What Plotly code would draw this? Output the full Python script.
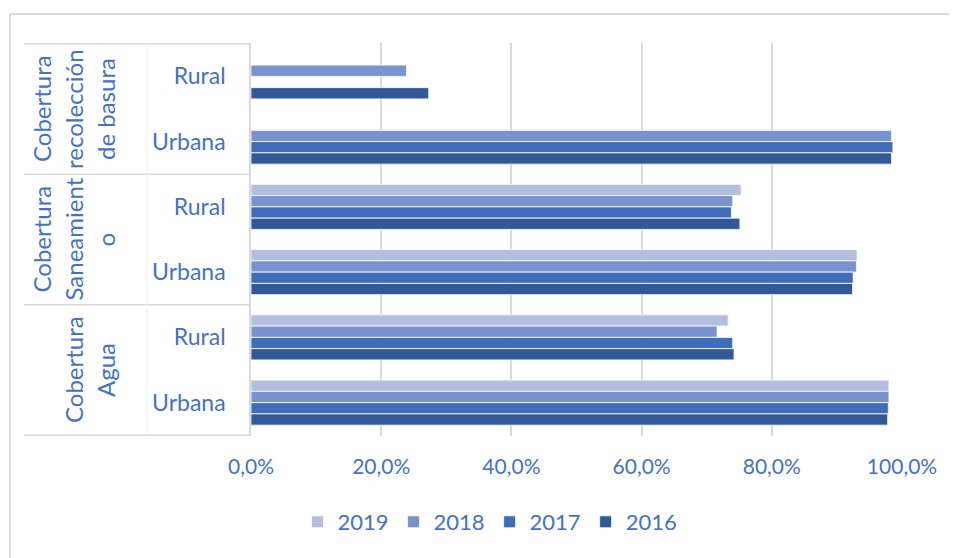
import plotly.graph_objects as go

# categorías (de arriba hacia abajo)
groups = ["basura", "basura", "saneamiento", "saneamiento", "agua", "agua"]
zones = ["Rural", "Urbana", "Rural", "Urbana", "Rural", "Urbana"]
group_lines = [
    ["Cobertura", "recolección", "de basura"],
    ["Cobertura", "Saneamient", "o"],
    ["Cobertura", "Agua"],
]

years = ["2019", "2018", "2017", "2016"]
v2019 = [None, None, 0.753, 0.931, 0.733, 0.980]
v2018 = [0.239, 0.984, 0.740, 0.930, 0.716, 0.980]
v2017 = [None, 0.986, 0.738, 0.925, 0.740, 0.979]
v2016 = [0.273, 0.984, 0.751, 0.924, 0.742, 0.978]
values = [v2019, v2018, v2017, v2016]
colors = ["#B4BFDF", "#7A93CF", "#406DB9", "#315897"]

TXT = "#4472C4"
GRID = "#D9D9D9"
OFF = 8  # margen del body de la página
W, H = 957 - OFF, 558 - OFF
L, R, T, B = 251 - OFF, 902 - OFF, 43 - OFF, 436 - OFF

cats = [g + "|" + z for g, z in zip(groups, zones)]


def px_x(p):
    return (p - OFF - L) / (R - L)


def px_y(p):
    return (B - (p - OFF)) / (B - T)


fig = go.Figure()
for name, vals, col in zip(years, values, colors):
    fig.add_trace(go.Bar(
        y=cats, x=vals, name=name, orientation="h",
        marker=dict(color=col, line=dict(color="white", width=0.8)),
    ))

shapes = []
# divisores de grupo a la izquierda del eje
for yb in [-0.5, 1.5, 3.5, 5.5]:
    shapes.append(dict(type="line", xref="paper", yref="y",
                       x0=px_x(24), x1=0, y0=yb, y1=yb,
                       line=dict(color=GRID, width=1.5)))
shapes.append(dict(type="line", xref="paper", yref="y",
                   x0=px_x(147), x1=px_x(147), y0=-0.5, y1=5.5,
                   line=dict(color="#F0F0F0", width=1)))
# marco exterior
shapes.append(dict(type="line", xref="paper", yref="paper",
                   x0=px_x(10), x1=px_x(960), y0=px_y(14), y1=px_y(14),
                   line=dict(color=GRID, width=2)))
shapes.append(dict(type="line", xref="paper", yref="paper",
                   x0=px_x(10), x1=px_x(10), y0=px_y(14), y1=px_y(560),
                   line=dict(color=GRID, width=2)))

annotations = []
col_px = [41, 73, 105]
for gi, lines in enumerate(group_lines):
    start = 3 - len(lines)
    for li, txt in enumerate(lines):
        annotations.append(dict(
            text=txt, xref="paper", yref="y",
            x=px_x(col_px[start + li]), y=2 * gi + 0.5,
            textangle=-90, showarrow=False,
            xanchor="center", yanchor="middle",
            font=dict(size=24, color=TXT, family="Lato"),
        ))

fig.update_layout(
    width=W, height=H, autosize=False,
    margin=dict(l=L, r=W - R, t=T, b=H - B),
    paper_bgcolor="white", plot_bgcolor="white",
    barmode="group", bargap=0.31, bargroupgap=0,
    separators=",.",
    font=dict(family="Lato", color=TXT, size=20),
    shapes=shapes, annotations=annotations,
    legend=dict(
        orientation="h", xref="container", yref="container",
        x=(490 - OFF) / W, y=1 - (522 - OFF) / H,
        xanchor="center", yanchor="middle",
        font=dict(size=22, color=TXT), traceorder="normal",
    ),
)
fig.update_xaxes(
    range=[0, 1], tickvals=[0, 0.2, 0.4, 0.6, 0.8, 1.0], tickformat=".1%",
    showgrid=True, gridcolor=GRID, gridwidth=1.5, zeroline=False,
    ticks="", ticklabelstandoff=16, tickfont=dict(size=21),
)
fig.update_yaxes(
    type="category", categoryorder="array", categoryarray=cats,
    autorange="reversed",
    tickvals=cats, ticktext=zones, ticks="",
    showline=True, linecolor=GRID, linewidth=1.5,
    ticklabelstandoff=19, tickfont=dict(size=23),
)

fig.write_html("out.html")
